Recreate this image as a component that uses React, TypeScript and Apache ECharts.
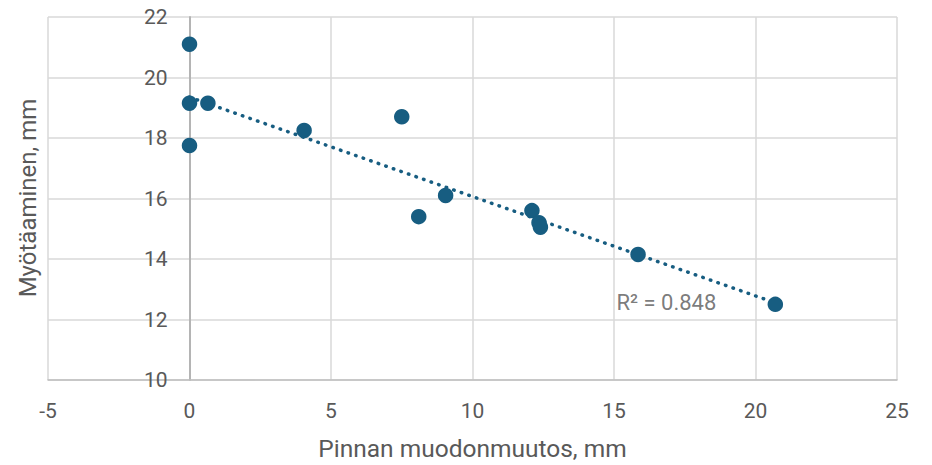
import React, { useEffect, useRef } from "react";
import * as echarts from "echarts";

const pointsX = [0, 0, 0.65, 0, 4.05, 7.5, 8.1, 9.05, 12.1, 12.35, 12.4, 15.85, 20.7];
const pointsY = [21.1, 19.15, 19.15, 17.75, 18.25, 18.7, 15.4, 16.1, 15.6, 15.2, 15.05, 14.15, 12.5];
const trendX = [0, 20.7];
const trendY = [19.35, 12.55];
const rSquaredLabel = "R² = 0.848";
const xTitle = "Pinnan muodonmuutos, mm";
const yTitle = "Myötäaminen, mm";

export default function App() {
  const ref = useRef<HTMLDivElement>(null);
  useEffect(() => {
    document.body.style.margin = "0";
    const chart = echarts.init(ref.current!, null, { renderer: "svg" });
    const font = "Roboto, 'Noto Sans', sans-serif";
    const scatterData = pointsX.map((x, i) => [x, pointsY[i]]);
    const trendData = trendX.map((x, i) => [x, trendY[i]]);
    const gridLeft = 48;
    const gridRight = 35;
    const plotWidth = 932 - gridLeft - gridRight;
    const xMin = -5;
    const xMax = 25;
    const zeroOffset = ((0 - xMin) / (xMax - xMin)) * plotWidth;
    chart.setOption({
      animation: false,
      backgroundColor: "#ffffff",
      grid: { left: gridLeft, right: gridRight, top: 17, bottom: 85, containLabel: false, outerBoundsMode: "none" },
      xAxis: {
        type: "value",
        min: xMin,
        max: xMax,
        interval: 5,
        name: xTitle,
        nameLocation: "middle",
        nameGap: 56,
        nameTextStyle: { color: "#595959", fontSize: 24.5, fontFamily: font },
        axisLine: { show: true, onZero: false, lineStyle: { color: "#bfbfbf", width: 1.5 } },
        axisTick: { show: false },
        axisLabel: { color: "#595959", fontSize: 21, fontFamily: font, margin: 20 },
        splitLine: { show: true, lineStyle: { color: "#d9d9d9", width: 1.5 } },
      },
      yAxis: {
        type: "value",
        min: 10,
        max: 22,
        interval: 2,
        offset: -zeroOffset,
        axisLine: { show: true, onZero: false, lineStyle: { color: "#b4b4b4", width: 2 } },
        axisTick: { show: false },
        axisLabel: { color: "#595959", fontSize: 21, fontFamily: font, margin: 22 },
        splitLine: { show: true, lineStyle: { color: "#d9d9d9", width: 1.5 } },
      },
      graphic: [
        {
          type: "text",
          x: 28,
          y: 198,
          rotation: Math.PI / 2,
          style: {
            text: yTitle,
            fill: "#595959",
            fontSize: 24,
            fontFamily: font,
            align: "center",
            verticalAlign: "middle",
          },
        },
      ],
      series: [
        {
          type: "line",
          data: trendData,
          symbol: "none",
          z: 3,
          lineStyle: { color: "#175d81", width: 3.5, type: [0.5, 7.5], cap: "round" },
          silent: true,
        },
        {
          type: "scatter",
          data: scatterData,
          symbolSize: 15.5,
          z: 4,
          itemStyle: { color: "#175d81", opacity: 1 },
        },
        {
          type: "scatter",
          data: [[16.85, 12.55]],
          symbolSize: 0,
          silent: true,
          z: 4,
          label: {
            show: true,
            position: "inside",
            formatter: rSquaredLabel,
            color: "#595959",
            fontSize: 22,
            fontFamily: font,
          },
        },
      ],
    });
    return () => chart.dispose();
  }, []);
  return <div ref={ref} style={{ width: 932, height: 465 }} />;
}
